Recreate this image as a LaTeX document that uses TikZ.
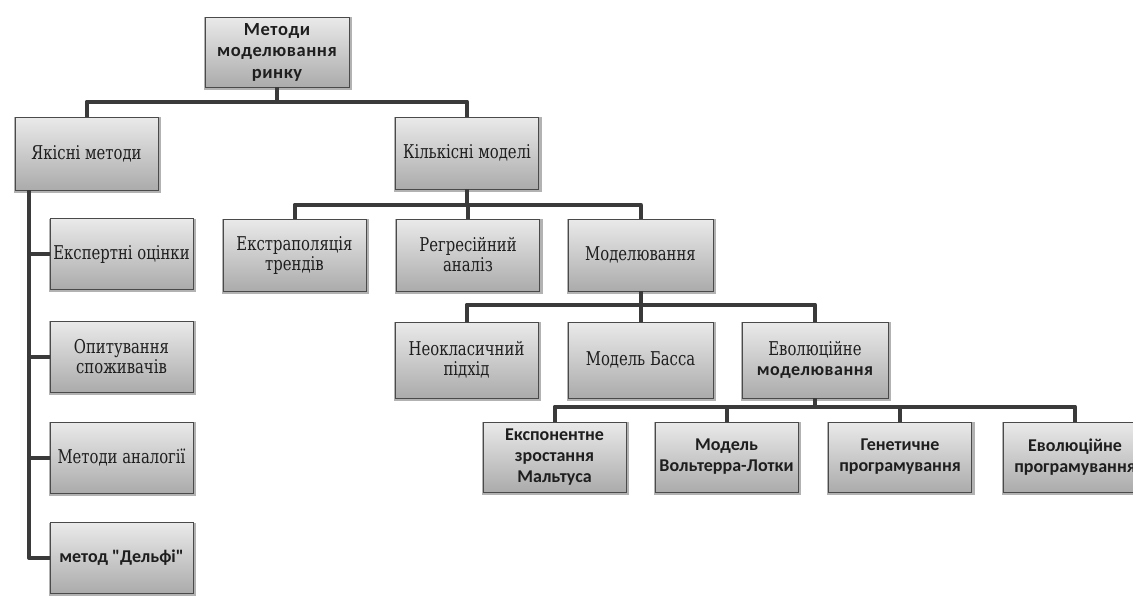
\documentclass[tikz,border=0pt]{standalone}
\usepackage{fontspec}
\setmainfont{Liberation Serif}
\newfontfamily\boxserif[FakeStretch=0.78]{DejaVu Serif}
\newfontfamily\boxsans{Carlito}
\newfontfamily\rootsans[LetterSpace=3]{Carlito}
\usetikzlibrary{shadows}
\definecolor{boxtop}{HTML}{EAEAEA}
\definecolor{boxbot}{HTML}{ABABAB}
\definecolor{linec}{HTML}{3A3A3A}
\definecolor{bordc}{HTML}{4A4A4A}
\definecolor{txtc}{HTML}{1E1E1E}
\tikzset{
  box/.style={rectangle, draw=bordc, line width=0.8pt, top color=boxtop, bottom color=boxbot,
    minimum width=143pt, minimum height=72pt, inner sep=0pt, align=center, text=txtc,
    drop shadow={shadow xshift=1pt, shadow yshift=-1.5pt, shadow scale=1.03, opacity=0.3, fill=black}},
  sertext/.style={font=\boxserif\fontsize{19}{20}\selectfont},
  santext/.style={font=\boxsans\bfseries\fontsize{18}{21}\selectfont},
  roottext/.style={font=\rootsans\bfseries\fontsize{18.5}{21.5}\selectfont},
  conn/.style={draw=linec, line width=4pt, line join=round},
}
\begin{document}
\begin{tikzpicture}[x=1pt,y=-1pt]
\useasboundingbox[fill=white] (0,0) rectangle (1133,597);

\node[box,roottext,minimum width=144pt,minimum height=70pt] (root) at (277,52) {Методи\\моделювання\\ринку};
\node[box,sertext,minimum height=73pt] (yak) at (86.5,153.5) {Якісні методи};
\node[box,sertext] (kil) at (467,153) {Кількісні моделі};

\node[box,sertext,minimum height=71pt] (e1) at (121.5,254) {Експертні оцінки};
\node[box,sertext,minimum height=71pt] (e2) at (121.5,356.5) {Опитування\\споживачів};
\node[box,sertext,minimum height=71pt] (e3) at (121.5,457.5) {Методи аналогії};
\node[box,santext,minimum height=71pt] (e4) at (121.5,558) {метод "Дельфі"};

\node[box,sertext] (ext) at (294.5,255) {Екстраполяція\\трендів};
\node[box,sertext] (reg) at (468,255) {Регресійний\\аналіз};
\node[box,sertext,minimum width=145pt] (mod) at (640.5,255) {Моделювання};

\node[box,sertext,minimum height=76pt] (neo) at (466.5,360) {Неокласичний\\підхід};
\node[box,sertext,minimum width=145pt,minimum height=76pt] (bas) at (640.5,360) {Модель Басса};
\node[box,sertext,minimum width=146pt,minimum height=76pt] (evm) at (815,360) {Еволюційне\\{\rootsans\bfseries\fontsize{18}{21}\selectfont моделювання}};

\node[box,santext,minimum height=70pt] (mal) at (554.5,457) {Експонентне\\зростання\\Мальтуса};
\node[box,santext,minimum height=70pt] (vol) at (726.5,457) {Модель\\Вольтерра-Лотки};
\node[box,santext,minimum height=70pt] (gen) at (900,457) {Генетичне\\програмування};
\node[box,santext,minimum height=70pt] (evp) at (1075,457) {Еволюційне\\програмування};

% level 1
\draw[conn] (root.south) -- ++(0,15);
\draw[conn] (yak.north) -- ++(0,-15) -| (kil.north);
% qualitative column
\coordinate (yv) at (29,190);
\draw[conn] (yv) |- (e1.west);
\draw[conn] (yv) |- (e2.west);
\draw[conn] (yv) |- (e3.west);
\draw[conn] (yv) |- (e4.west);
% level 2
\draw[conn] (kil.south) -- ++(0,16);
\draw[conn] (ext.north) -- ++(0,-14) -| (mod.north);
\draw[conn] (reg.north) -- ++(0,-14);
% level 3
\draw[conn] (mod.south) -- ++(0,14);
\draw[conn] (neo.north) -- ++(0,-17) -| (evm.north);
\draw[conn] (bas.north) -- ++(0,-17);
% level 4
\draw[conn] (evm.south) -- ++(0,10);
\draw[conn] (mal.north) -- ++(0,-15) -| (evp.north);
\draw[conn] (vol.north) -- ++(0,-15);
\draw[conn] (gen.north) -- ++(0,-15);
\end{tikzpicture}
\end{document}
